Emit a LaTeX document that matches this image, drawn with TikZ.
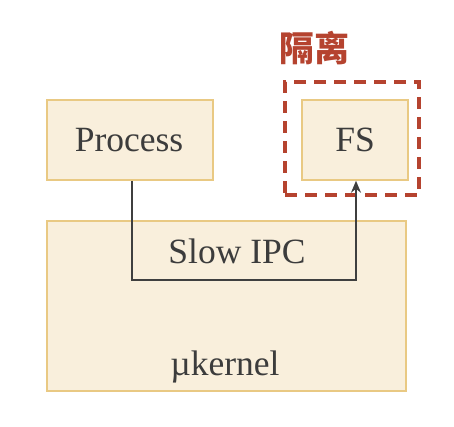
\documentclass[tikz,border=0pt]{standalone}
\usepackage{fontspec}
\setmainfont{Liberation Serif}
\newfontfamily\cjk{Noto Sans CJK SC}
\usetikzlibrary{arrows.meta}
\definecolor{boxfill}{HTML}{F9EFDC}
\definecolor{boxline}{HTML}{E9C983}
\definecolor{txt}{HTML}{3C3C3C}
\definecolor{iso}{HTML}{B5432F}
\definecolor{conn}{HTML}{3F3F3F}
\tikzset{
  box/.style={draw=boxline, fill=boxfill, line width=1.5pt, inner sep=0pt},
  lbl/.style={text=txt, font=\fontsize{35.5}{40}\selectfont, inner sep=0pt},
  link/.style={draw=conn, line width=1.5pt, -{Stealth[length=12pt,width=10pt]}},
}
\begin{document}
\begin{tikzpicture}[x=1pt,y=-1pt]
\useasboundingbox[fill=white] (0,0) rectangle (454,426);
% kernel
\node[box, minimum width=359pt, minimum height=170pt] (kern) at (226.5,306) {};
\node[lbl] (ktxt) at (225,367) {µkernel};
% boxes
\node[box, minimum width=166pt, minimum height=80pt] (proc) at (130,140) {};
\node[lbl] (ptxt) at (129,140) {Process};
\node[box, minimum width=106pt, minimum height=80pt] (fs) at (355,140) {};
\node[lbl] (ftxt) at (355,140) {FS};
% isolation
\node[draw=iso, line width=3.5pt, dash pattern=on 12pt off 8pt, minimum width=134pt, minimum height=113pt, inner sep=0pt] (isob) at (352,138.5) {};
\node[text=iso, font=\cjk\bfseries\fontsize{35}{40}\selectfont, inner sep=0pt] (isot) at (314,48) {隔离};
% connector
\coordinate (c1) at (132,280);
\coordinate (c2) at (356,280);
\draw[link] (proc.south -| c1) -- (c1) -- (c2) -- (fs.south -| c2);
\node[lbl] (ipc) at (237,251) {Slow IPC};
\end{tikzpicture}
\end{document}
